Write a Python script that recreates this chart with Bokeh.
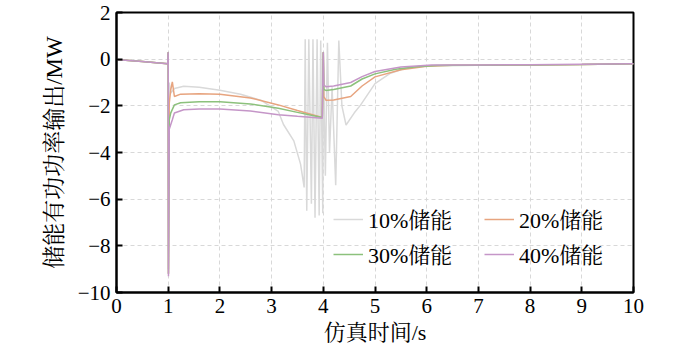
from bokeh.plotting import figure
from bokeh.embed import file_html
from bokeh.resources import INLINE
from bokeh.models import Range1d, FixedTicker, CustomJSTickFormatter, Legend, LegendItem

# ---- data ----
series_names = ["10%储能", "20%储能", "30%储能", "40%储能"]

t10 = [0, 0.05, 0.5, 0.99, 1.0, 1.005, 1.02, 1.05, 1.12, 1.3, 1.6, 2.0, 2.4, 2.8, 3.13, 3.23,
       3.43, 3.56, 3.63, 3.65, 3.68, 3.72, 3.77, 3.80, 3.84, 3.88, 3.92, 3.95, 3.99, 4.0, 4.04,
       4.08, 4.12, 4.17, 4.24, 4.3, 4.36, 4.44, 4.6, 4.72, 5.0, 5.3, 5.6, 6.0, 6.5, 7, 8, 9, 10]
p10 = [0, -0.03, -0.1, -0.2, 0.3, -9.0, -1.0, -1.45, -1.26, -1.16, -1.2, -1.33, -1.5, -1.77,
       -2.24, -2.8, -3.5, -4.5, -5.5, 0.85, -6.5, 0.85, -6.2, 0.85, -6.8, 0.85, -6.7, 0.8,
       -6.6, 0.3, -5.0, 0.7, -4.0, -1.2, -5.4, 0.8, -2.0, -2.82, -2.3, -1.97, -1.05, -0.6,
       -0.38, -0.28, -0.26, -0.26, -0.25, -0.23, -0.2]

t20 = [0, 0.05, 0.5, 0.99, 1.0, 1.005, 1.02, 1.05, 1.08, 1.12, 1.24, 1.6, 2.0, 2.59, 3.13,
       3.5, 3.98, 4.0, 4.01, 4.05, 4.2, 4.53, 4.75, 5.0, 5.5, 6.0, 6.5, 7, 8, 9, 10]
p20 = [0, -0.03, -0.1, -0.2, 0.3, -9.2, -1.9, -1.3, -0.97, -1.6, -1.5, -1.48, -1.5, -1.66,
       -1.96, -2.2, -2.5, 0.3, -1.6, -1.76, -1.75, -1.6, -1.15, -0.76, -0.45, -0.3, -0.26,
       -0.26, -0.25, -0.23, -0.2]

t30 = [0, 0.05, 0.5, 0.99, 1.0, 1.005, 1.02, 1.05, 1.12, 1.24, 1.6, 2.0, 2.59, 3.13, 3.5,
       3.98, 4.0, 4.01, 4.05, 4.2, 4.53, 4.75, 5.0, 5.4, 5.8, 6.2, 7, 8, 9, 10]
p30 = [0, -0.03, -0.1, -0.2, 0.3, -9.2, -2.6, -2.3, -1.96, -1.87, -1.83, -1.82, -1.92, -2.1,
       -2.28, -2.5, 0.3, -1.3, -1.34, -1.3, -1.15, -0.85, -0.63, -0.43, -0.32, -0.27, -0.26,
       -0.25, -0.23, -0.2]

t40 = [0, 0.05, 0.5, 0.99, 1.0, 1.005, 1.02, 1.05, 1.08, 1.12, 1.3, 1.6, 2.0, 2.59, 3.13,
       3.5, 3.98, 4.0, 4.01, 4.05, 4.2, 4.53, 4.75, 5.0, 5.5, 6.1, 7, 8, 9, 10]
p40 = [0, -0.03, -0.1, -0.2, 0.3, -9.3, -3.0, -2.8, -2.6, -2.31, -2.17, -2.14, -2.14, -2.22,
       -2.38, -2.45, -2.53, 0.3, -1.1, -1.18, -1.15, -1.0, -0.75, -0.53, -0.34, -0.25, -0.25,
       -0.24, -0.22, -0.2]

x_ticks = [0, 1, 2, 3, 4, 5, 6, 7, 8, 9, 10]
y_ticks = [2, 0, -2, -4, -6, -8, -10]

colors = ["#d9d9d9", "#e7a47f", "#8cc17c", "#c596c8"]

FONT = "Liberation Serif, Noto Serif CJK SC, Noto Sans CJK SC"

p = figure(width=666, height=347, output_backend="svg", toolbar_location=None,
           x_range=Range1d(0, 10), y_range=Range1d(-10, 2),
           min_border_left=116, min_border_right=33, min_border_top=12, min_border_bottom=55)

p.background_fill_color = "white"
p.outline_line_color = "black"
p.outline_line_width = 2

rends = []
for t, v, c in zip([t10, t20, t30, t40], [p10, p20, p30, p40], colors):
    rends.append(p.line(t, v, line_color=c, line_width=1.5))

# axes
for ax in (p.xaxis[0], p.yaxis[0]):
    ax.major_tick_in = 6
    ax.major_tick_out = 0
    ax.minor_tick_in = 0
    ax.minor_tick_out = 0
    ax.axis_line_color = "black"
    ax.axis_line_width = 2
    ax.major_tick_line_color = "black"
    ax.major_tick_line_width = 2
    ax.major_label_text_font = FONT
    ax.major_label_text_font_size = "21px"
    ax.major_label_text_color = "black"
    ax.axis_label_text_font = FONT
    ax.axis_label_text_font_size = "22px"
    ax.axis_label_text_font_style = "normal"
    ax.axis_label_text_color = "black"

p.yaxis.axis_label_text_font_size = "23px"
p.xaxis.ticker = FixedTicker(ticks=x_ticks)
p.yaxis.ticker = FixedTicker(ticks=y_ticks)
p.yaxis.formatter = CustomJSTickFormatter(code="return (tick < 0 ? '\u2212' : '') + Math.abs(tick);")
p.xaxis.axis_label = "仿真时间/s"
p.yaxis.axis_label = "储能有功功率输出/MW"
p.xaxis.major_label_standoff = 6
p.yaxis.major_label_standoff = 6
p.xaxis.axis_label_standoff = 4
p.yaxis.axis_label_standoff = 8

p.xgrid.ticker = FixedTicker(ticks=x_ticks[1:-1])
p.ygrid.ticker = FixedTicker(ticks=y_ticks[1:-1])
for g in (p.xgrid[0], p.ygrid[0]):
    g.grid_line_color = "#d8d8d8"
    g.grid_line_dash = "4 3"
    g.grid_line_width = 1

# legend: column-major filling -> order so rows read 10%,20% / 30%,40%
order = [0, 2, 1, 3]
legend = Legend(items=[LegendItem(label=series_names[i], renderers=[rends[i]]) for i in order],
                location=(217, 23), ncols=2, padding=0, margin=0, spacing=4,
                glyph_width=30, glyph_height=22, label_standoff=5, label_height=22,
                label_width=112,
                label_text_font=FONT, label_text_font_size="22px", label_text_color="black",
                background_fill_alpha=0, border_line_alpha=0)
p.add_layout(legend)

open("out.html", "w").write(file_html(p, INLINE))
